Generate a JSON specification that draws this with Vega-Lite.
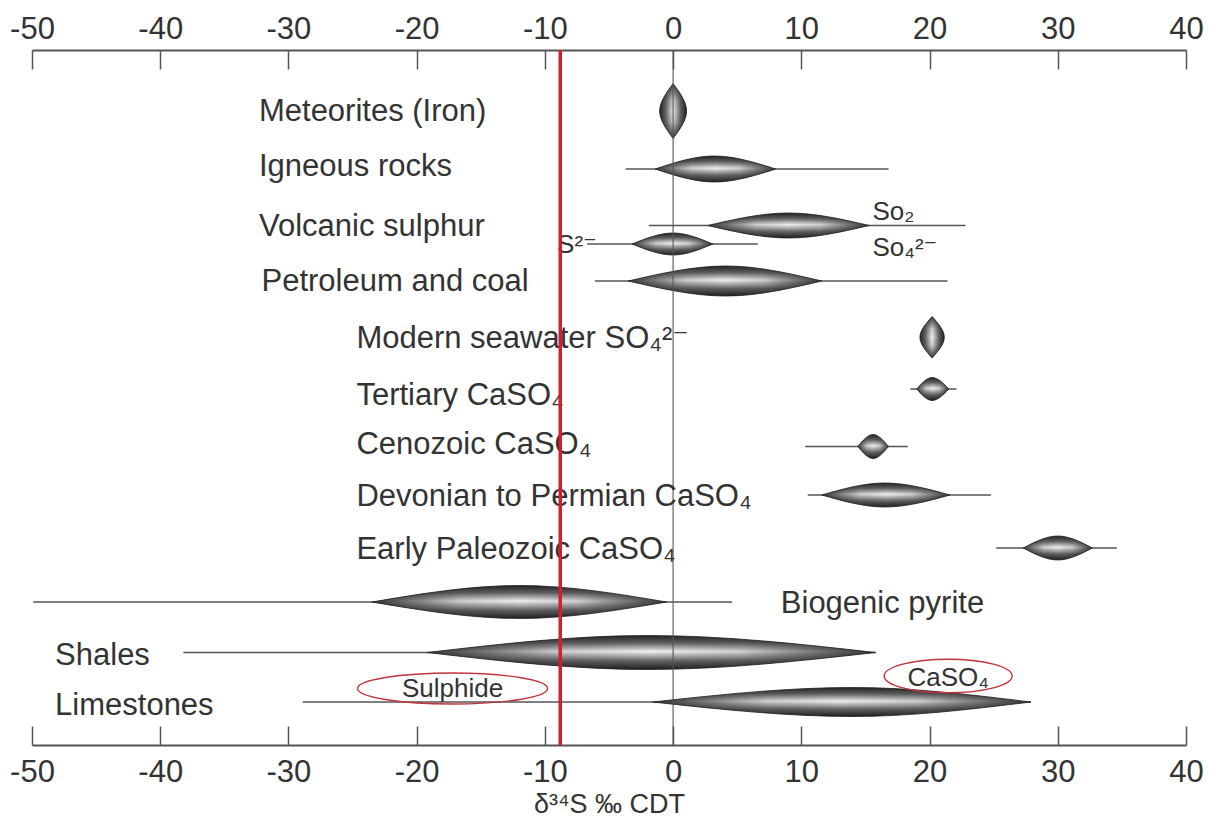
{
  "$schema": "https://vega.github.io/schema/vega-lite/v6.json",
  "width": 1154,
  "height": 695,
  "autosize": {"type": "none"},
  "padding": {"left": 32, "top": 50, "right": 23, "bottom": 80},
  "background": "white",
  "config": {
    "view": {"stroke": null},
    "font": "Liberation Sans, Arial, DejaVu Sans, sans-serif"
  },
  "datasets": {
    "whiskers": [
      {"id": "igneous", "lane": 2.38, "from": -3.7, "to": 16.8},
      {"id": "so2", "lane": 3.51, "from": -1.9, "to": 22.8},
      {"id": "s2", "lane": 3.88, "from": -6.7, "to": 6.6},
      {"id": "petroleum", "lane": 4.62, "from": -6.1, "to": 21.4},
      {"id": "tertiary", "lane": 6.78, "from": 18.5, "to": 22.1},
      {"id": "cenozoic", "lane": 7.93, "from": 10.3, "to": 18.3},
      {"id": "devonian", "lane": 8.9, "from": 10.5, "to": 24.8},
      {"id": "paleozoic", "lane": 9.96, "from": 25.2, "to": 34.6},
      {"id": "biogenic", "lane": 11.04, "from": -49.9, "to": 4.6},
      {"id": "shales", "lane": 12.05, "from": -38.2, "to": 15.8},
      {"id": "limestones", "lane": 13.04, "from": -28.9, "to": 27.9}
    ],
    "lens": [
      {"id": "igneous", "x": -1.4, "lo": 2.38, "hi": 2.38},
      {"id": "igneous", "x": 3.2, "lo": 2.12, "hi": 2.64},
      {"id": "igneous", "x": 8.0, "lo": 2.38, "hi": 2.38},
      {"id": "so2", "x": 2.7, "lo": 3.51, "hi": 3.51},
      {"id": "so2", "x": 9.0, "lo": 3.26, "hi": 3.76},
      {"id": "so2", "x": 15.3, "lo": 3.51, "hi": 3.51},
      {"id": "s2", "x": -3.2, "lo": 3.88, "hi": 3.88},
      {"id": "s2", "x": 0.0, "lo": 3.66, "hi": 4.1},
      {"id": "s2", "x": 3.1, "lo": 3.88, "hi": 3.88},
      {"id": "petroleum", "x": -3.5, "lo": 4.62, "hi": 4.62},
      {"id": "petroleum", "x": 4.1, "lo": 4.32, "hi": 4.92},
      {"id": "petroleum", "x": 11.6, "lo": 4.62, "hi": 4.62},
      {"id": "tertiary", "x": 19.0, "lo": 6.78, "hi": 6.78},
      {"id": "tertiary", "x": 20.2, "lo": 6.55, "hi": 7.01},
      {"id": "tertiary", "x": 21.5, "lo": 6.78, "hi": 6.78},
      {"id": "cenozoic", "x": 14.4, "lo": 7.93, "hi": 7.93},
      {"id": "cenozoic", "x": 15.6, "lo": 7.69, "hi": 8.17},
      {"id": "cenozoic", "x": 16.8, "lo": 7.93, "hi": 7.93},
      {"id": "devonian", "x": 11.6, "lo": 8.9, "hi": 8.9},
      {"id": "devonian", "x": 16.5, "lo": 8.66, "hi": 9.14},
      {"id": "devonian", "x": 21.6, "lo": 8.9, "hi": 8.9},
      {"id": "paleozoic", "x": 27.3, "lo": 9.96, "hi": 9.96},
      {"id": "paleozoic", "x": 30.0, "lo": 9.72, "hi": 10.2},
      {"id": "paleozoic", "x": 32.7, "lo": 9.96, "hi": 9.96},
      {"id": "biogenic", "x": -23.5, "lo": 11.04, "hi": 11.04},
      {"id": "biogenic", "x": -12.0, "lo": 10.71, "hi": 11.37},
      {"id": "biogenic", "x": -0.5, "lo": 11.04, "hi": 11.04},
      {"id": "shales", "x": -19.2, "lo": 12.05, "hi": 12.05},
      {"id": "shales", "x": -2.0, "lo": 11.71, "hi": 12.39},
      {"id": "shales", "x": 15.8, "lo": 12.05, "hi": 12.05},
      {"id": "limestones", "x": -1.6, "lo": 13.04, "hi": 13.04},
      {"id": "limestones", "x": 14.0, "lo": 12.75, "hi": 13.33},
      {"id": "limestones", "x": 27.9, "lo": 13.04, "hi": 13.04}
    ],
    "vlens": [
      {"id": "meteorites", "lane": 0.67, "xlo": 0.0, "xhi": 0.0},
      {"id": "meteorites", "lane": 1.22, "xlo": -1.05, "xhi": 1.05},
      {"id": "meteorites", "lane": 1.77, "xlo": 0.0, "xhi": 0.0},
      {"id": "seawater", "lane": 5.33, "xlo": 20.2, "xhi": 20.2},
      {"id": "seawater", "lane": 5.745, "xlo": 19.25, "xhi": 21.15},
      {"id": "seawater", "lane": 6.16, "xlo": 20.2, "xhi": 20.2}
    ],
    "labels": [
      {"kind": "row", "text": "Meteorites (Iron)", "x": -32.3, "lane": 1.41},
      {"kind": "row", "text": "Igneous rocks", "x": -32.3, "lane": 2.52},
      {"kind": "row", "text": "Volcanic sulphur", "x": -32.3, "lane": 3.71},
      {"kind": "row", "text": "Petroleum and coal", "x": -32.1, "lane": 4.82},
      {"kind": "row", "text": "Modern seawater SO₄²⁻", "x": -24.7, "lane": 5.96},
      {"kind": "row", "text": "Tertiary CaSO₄", "x": -24.7, "lane": 7.1},
      {"kind": "row", "text": "Cenozoic CaSO₄", "x": -24.7, "lane": 8.08},
      {"kind": "row", "text": "Devonian to Permian CaSO₄", "x": -24.7, "lane": 9.11},
      {"kind": "row", "text": "Early Paleozoic CaSO₄", "x": -24.7, "lane": 10.18},
      {"kind": "row", "text": "Biogenic pyrite", "x": 8.4, "lane": 11.25},
      {"kind": "row", "text": "Shales", "x": -48.2, "lane": 12.3},
      {"kind": "row", "text": "Limestones", "x": -48.2, "lane": 13.29},
      {"kind": "species", "text": "S²⁻", "x": -9.05, "lane": 4.06},
      {"kind": "species", "text": "So₂", "x": 15.55, "lane": 3.39},
      {"kind": "species", "text": "So₄²⁻", "x": 15.55, "lane": 4.12}
    ],
    "groups": [
      {"name": "Sulphide", "x": -17.2, "lane": 12.77, "textLane": 12.94},
      {"name": "CaSO₄", "x": 21.45, "lane": 12.52, "textLane": 12.72}
    ],
    "refs": [
      {"what": "zero", "d34S": 0},
      {"what": "marker", "d34S": -8.8}
    ]
  },
  "resolve": {"axis": {"x": "independent"}},
  "layer": [
    {
      "data": {"name": "whiskers"},
      "mark": {"type": "rule", "color": "#555555", "strokeWidth": 1.5},
      "encoding": {
        "x": {
          "field": "from",
          "type": "quantitative",
          "scale": {"domain": [-50, 40], "nice": false, "zero": false},
          "axis": {
            "orient": "bottom",
            "values": [-50, -40, -30, -20, -10, 0, 10, 20, 30, 40],
            "labelExpr": "replace(datum.label, '−', '-')",
            "title": "δ³⁴S ‰ CDT",
            "grid": false,
            "domainColor": "#555555",
            "domainWidth": 2,
            "tickColor": "#555555",
            "tickWidth": 1.5,
            "tickSize": -19,
            "labelFontSize": 31,
            "labelColor": "#333333",
            "labelPadding": 55,
            "labelBaseline": "alphabetic",
            "labelFlush": false,
            "labelOverlap": false,
            "labelBound": false,
            "titleFontSize": 27,
            "titleFontWeight": "normal",
            "titleColor": "#333333",
            "titlePadding": 4
          }
        },
        "x2": {"field": "to"},
        "y": {
          "field": "lane",
          "type": "quantitative",
          "scale": {"domain": [0, 13.9], "reverse": true, "nice": false, "zero": false},
          "axis": null
        }
      }
    },
    {
      "data": {"name": "lens"},
      "mark": {
        "type": "area",
        "interpolate": "monotone",
        "stroke": "#1e1e1e",
        "strokeWidth": 0.8,
        "fill": {
          "gradient": "linear",
          "x1": 0, "y1": 0, "x2": 0, "y2": 1,
          "stops": [
            {"offset": 0, "color": "#222222"},
            {"offset": 0.22, "color": "#626262"},
            {"offset": 0.47, "color": "#efefef"},
            {"offset": 0.75, "color": "#626262"},
            {"offset": 1, "color": "#1f1f1f"}
          ]
        }
      },
      "encoding": {
        "x": {
          "field": "x",
          "type": "quantitative",
          "axis": {
            "orient": "top",
            "values": [-50, -40, -30, -20, -10, 0, 10, 20, 30, 40],
            "labelExpr": "replace(datum.label, '−', '-')",
            "title": null,
            "grid": false,
            "domainColor": "#555555",
            "domainWidth": 2,
            "tickColor": "#555555",
            "tickWidth": 1.5,
            "tickSize": -19,
            "labelFontSize": 31,
            "labelColor": "#333333",
            "labelPadding": 31,
            "labelBaseline": "alphabetic",
            "labelFlush": false,
            "labelOverlap": false,
            "labelBound": false
          }
        },
        "y": {"field": "lo", "type": "quantitative", "axis": null},
        "y2": {"field": "hi"},
        "detail": {"field": "id"}
      }
    },
    {
      "data": {"name": "lens"},
      "mark": {
        "type": "area",
        "interpolate": "monotone",
        "fill": {
          "gradient": "linear",
          "x1": 0, "y1": 0, "x2": 1, "y2": 0,
          "stops": [
            {"offset": 0, "color": "rgba(30,30,30,0.9)"},
            {"offset": 0.3, "color": "rgba(30,30,30,0.15)"},
            {"offset": 0.5, "color": "rgba(30,30,30,0)"},
            {"offset": 0.7, "color": "rgba(30,30,30,0.15)"},
            {"offset": 1, "color": "rgba(30,30,30,0.9)"}
          ]
        }
      },
      "encoding": {
        "x": {"field": "x", "type": "quantitative", "axis": null},
        "y": {"field": "lo", "type": "quantitative", "axis": null},
        "y2": {"field": "hi"},
        "detail": {"field": "id"}
      }
    },
    {
      "data": {"name": "vlens"},
      "mark": {
        "type": "area",
        "orient": "horizontal",
        "interpolate": "monotone",
        "stroke": "#1e1e1e",
        "strokeWidth": 0.8,
        "fill": {
          "gradient": "linear",
          "x1": 0, "y1": 0, "x2": 1, "y2": 0,
          "stops": [
            {"offset": 0, "color": "#222222"},
            {"offset": 0.22, "color": "#626262"},
            {"offset": 0.5, "color": "#efefef"},
            {"offset": 0.78, "color": "#626262"},
            {"offset": 1, "color": "#1f1f1f"}
          ]
        }
      },
      "encoding": {
        "y": {"field": "lane", "type": "quantitative", "axis": null},
        "x": {"field": "xlo", "type": "quantitative", "axis": null},
        "x2": {"field": "xhi"},
        "detail": {"field": "id"}
      }
    },
    {
      "data": {"name": "vlens"},
      "mark": {
        "type": "area",
        "orient": "horizontal",
        "interpolate": "monotone",
        "fill": {
          "gradient": "linear",
          "x1": 0, "y1": 0, "x2": 0, "y2": 1,
          "stops": [
            {"offset": 0, "color": "rgba(30,30,30,0.9)"},
            {"offset": 0.3, "color": "rgba(30,30,30,0.15)"},
            {"offset": 0.5, "color": "rgba(30,30,30,0)"},
            {"offset": 0.7, "color": "rgba(30,30,30,0.15)"},
            {"offset": 1, "color": "rgba(30,30,30,0.9)"}
          ]
        }
      },
      "encoding": {
        "y": {"field": "lane", "type": "quantitative", "axis": null},
        "x": {"field": "xlo", "type": "quantitative", "axis": null},
        "x2": {"field": "xhi"},
        "detail": {"field": "id"}
      }
    },
    {
      "data": {"name": "refs"},
      "transform": [{"filter": "datum.what === 'zero'"}],
      "mark": {"type": "rule", "color": "#555555", "strokeWidth": 1.3, "opacity": 0.85},
      "encoding": {
        "x": {"field": "d34S", "type": "quantitative", "axis": null}
      }
    },
    {
      "data": {"name": "labels"},
      "transform": [{"filter": "datum.kind === 'row'"}],
      "mark": {"type": "text", "align": "left", "baseline": "alphabetic", "fontSize": 31, "color": "#333333"},
      "encoding": {
        "x": {"field": "x", "type": "quantitative", "axis": null},
        "y": {"field": "lane", "type": "quantitative", "axis": null},
        "text": {"field": "text"}
      }
    },
    {
      "data": {"name": "labels"},
      "transform": [{"filter": "datum.kind === 'species'"}],
      "mark": {"type": "text", "align": "left", "baseline": "alphabetic", "fontSize": 26, "color": "#333333"},
      "encoding": {
        "x": {"field": "x", "type": "quantitative", "axis": null},
        "y": {"field": "lane", "type": "quantitative", "axis": null},
        "text": {"field": "text"}
      }
    },
    {
      "data": {"name": "groups"},
      "transform": [{"filter": "datum.name === 'Sulphide'"}],
      "mark": {
        "type": "point",
        "shape": "M -1 0 A 1 0.163 0 1 1 1 0 A 1 0.163 0 1 1 -1 0 Z",
        "size": 36100,
        "filled": false,
        "stroke": "#c0343c",
        "strokeWidth": 1.4,
        "opacity": 1
      },
      "encoding": {
        "x": {"field": "x", "type": "quantitative", "axis": null},
        "y": {"field": "lane", "type": "quantitative", "axis": null}
      }
    },
    {
      "data": {"name": "groups"},
      "transform": [{"filter": "datum.name !== 'Sulphide'"}],
      "mark": {
        "type": "point",
        "shape": "M -1 0 A 1 0.262 0 1 1 1 0 A 1 0.262 0 1 1 -1 0 Z",
        "size": 16384,
        "filled": false,
        "stroke": "#c0343c",
        "strokeWidth": 1.4,
        "opacity": 1
      },
      "encoding": {
        "x": {"field": "x", "type": "quantitative", "axis": null},
        "y": {"field": "lane", "type": "quantitative", "axis": null}
      }
    },
    {
      "data": {"name": "groups"},
      "mark": {"type": "text", "align": "center", "baseline": "alphabetic", "fontSize": 26, "color": "#333333"},
      "encoding": {
        "x": {"field": "x", "type": "quantitative", "axis": null},
        "y": {"field": "textLane", "type": "quantitative", "axis": null},
        "text": {"field": "name"}
      }
    },
    {
      "data": {"name": "refs"},
      "transform": [{"filter": "datum.what === 'marker'"}],
      "mark": {"type": "rule", "color": "#d01f30", "strokeWidth": 3.5},
      "encoding": {
        "x": {"field": "d34S", "type": "quantitative", "axis": null}
      }
    }
  ]
}
